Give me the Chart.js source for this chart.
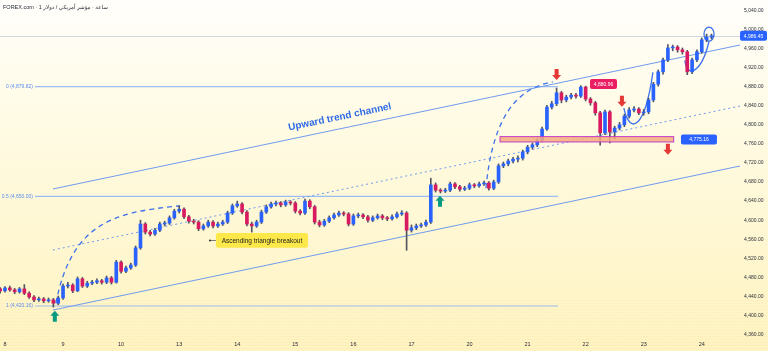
<!DOCTYPE html>
<html>
<head>
<meta charset="utf-8">
<script src="https://cdn.jsdelivr.net/npm/chart.js@4.4.1/dist/chart.umd.min.js"></script>
<style>
  html, body { margin: 0; padding: 0; background: #fffbe6; }
  #wrap { width: 768px; height: 351px; }
</style>
</head>
<body>
<div id="wrap"><canvas id="chart" width="768" height="351"></canvas></div>
<script>
// Candles (one every ~2h)
const opens = [
  4456, 4452, 4458, 4454, 4450, 4456, 4447, 4439, 4433, 4435, 4431, 4433, 4426,
  4437, 4462, 4464, 4452, 4477, 4462, 4468, 4470, 4473, 4470, 4479, 4470,
  4512, 4493, 4500, 4506, 4542, 4592, 4575, 4571, 4579, 4592, 4594, 4605,
  4619, 4623, 4607, 4598, 4596, 4582, 4588, 4596, 4588, 4592, 4596, 4615,
  4630, 4634, 4617, 4592, 4588, 4596, 4617, 4628, 4634, 4636, 4632, 4638,
  4636, 4619, 4615, 4640, 4628, 4596, 4590, 4598, 4605, 4611, 4615, 4613,
  4592, 4609, 4611, 4607, 4600, 4605, 4609, 4605, 4603, 4607, 4613, 4615,
  4579, 4584, 4588, 4590, 4596, 4674, 4663, 4661, 4663, 4676, 4670, 4665,
  4667, 4674, 4672, 4676, 4678, 4667, 4680, 4714, 4718, 4724, 4728, 4730,
  4743, 4753, 4758, 4768, 4791, 4837, 4844, 4867, 4852, 4858, 4862, 4860,
  4879, 4854, 4846, 4825, 4783, 4827, 4785, 4793, 4800, 4818, 4831, 4833,
  4825, 4827, 4852, 4885, 4911, 4936, 4961, 4963, 4957, 4953, 4911, 4936,
  4953, 4978, 4984
];
const highs = [
  4459, 4461, 4462, 4457, 4459, 4465, 4450, 4442, 4439, 4438, 4437, 4436, 4441,
  4466, 4470, 4467, 4481, 4480, 4472, 4474, 4477, 4476, 4483, 4482, 4516,
  4515, 4504, 4510, 4546, 4600, 4595, 4579, 4583, 4596, 4598, 4609, 4623,
  4630, 4626, 4610, 4602, 4599, 4592, 4600, 4599, 4596, 4600, 4619, 4634,
  4640, 4637, 4620, 4596, 4600, 4621, 4632, 4638, 4640, 4639, 4642, 4641,
  4639, 4622, 4644, 4643, 4631, 4600, 4602, 4609, 4615, 4619, 4618, 4616,
  4613, 4615, 4614, 4610, 4609, 4613, 4612, 4608, 4611, 4617, 4620, 4618,
  4590, 4592, 4594, 4600, 4688, 4678, 4666, 4667, 4680, 4679, 4673, 4671,
  4678, 4677, 4680, 4682, 4681, 4684, 4718, 4722, 4728, 4732, 4735, 4747,
  4757, 4762, 4772, 4795, 4841, 4849, 4877, 4870, 4862, 4866, 4866, 4882,
  4881, 4857, 4849, 4828, 4831, 4830, 4797, 4805, 4822, 4836, 4838, 4836,
  4832, 4856, 4889, 4915, 4940, 4968, 4967, 4966, 4961, 4956, 4940, 4957,
  4982, 4990, 4990
];
const lows = [
  4447, 4449, 4451, 4446, 4447, 4444, 4436, 4429, 4430, 4427, 4428, 4418, 4423,
  4434, 4458, 4448, 4450, 4459, 4459, 4465, 4467, 4466, 4467, 4466, 4468,
  4489, 4490, 4497, 4503, 4539, 4571, 4567, 4568, 4576, 4588, 4591, 4602,
  4615, 4603, 4594, 4592, 4578, 4579, 4585, 4584, 4585, 4589, 4593, 4612,
  4627, 4613, 4588, 4575, 4585, 4593, 4614, 4625, 4630, 4628, 4629, 4632,
  4615, 4611, 4612, 4624, 4592, 4586, 4587, 4595, 4602, 4608, 4609, 4588,
  4589, 4605, 4603, 4596, 4597, 4602, 4601, 4599, 4600, 4604, 4610, 4537,
  4575, 4580, 4585, 4587, 4593, 4659, 4657, 4658, 4660, 4666, 4661, 4662,
  4664, 4668, 4669, 4673, 4663, 4664, 4677, 4710, 4714, 4720, 4722, 4726,
  4739, 4749, 4754, 4764, 4788, 4833, 4840, 4846, 4848, 4854, 4856, 4857,
  4850, 4841, 4820, 4757, 4779, 4762, 4770, 4789, 4796, 4814, 4827, 4821,
  4820, 4823, 4848, 4881, 4906, 4932, 4955, 4952, 4948, 4905, 4907, 4932,
  4950, 4974, 4980
];
const closes = [
  4452, 4458, 4454, 4450, 4456, 4447, 4439, 4433, 4435, 4431, 4433, 4426, 4437,
  4462, 4464, 4452, 4477, 4462, 4468, 4470, 4473, 4470, 4479, 4470, 4512,
  4493, 4500, 4506, 4542, 4592, 4575, 4571, 4579, 4592, 4594, 4605, 4619,
  4623, 4607, 4598, 4596, 4582, 4588, 4596, 4588, 4592, 4596, 4615, 4630,
  4634, 4617, 4592, 4588, 4596, 4617, 4628, 4634, 4636, 4632, 4638, 4636,
  4619, 4615, 4640, 4628, 4596, 4590, 4598, 4605, 4611, 4615, 4613, 4592,
  4609, 4611, 4607, 4600, 4605, 4609, 4605, 4603, 4607, 4613, 4615, 4579,
  4584, 4588, 4590, 4596, 4674, 4663, 4661, 4663, 4676, 4670, 4665, 4667,
  4674, 4672, 4676, 4678, 4667, 4680, 4714, 4718, 4724, 4728, 4730, 4743,
  4753, 4758, 4768, 4791, 4837, 4844, 4867, 4852, 4858, 4862, 4860, 4879,
  4854, 4846, 4825, 4783, 4827, 4785, 4793, 4800, 4818, 4831, 4833, 4825,
  4827, 4852, 4885, 4911, 4936, 4961, 4963, 4957, 4953, 4911, 4936, 4953,
  4978, 4984, 4986.45
];

// Axis labels
const dayTicks = [1, 13, 25, 37, 49, 61, 73, 85, 97, 109, 121, 133, 145];
const dayLabels = ['8', '9', '10', '13', '14', '15', '16', '17', '20', '21', '22', '23', '24'];
const priceTicks = [4360, 4400, 4440, 4480, 4520, 4560, 4600, 4640, 4680, 4720, 4760,
  4800, 4840, 4880, 4920, 4960, 5000, 5040];

// Levels drawn on the chart
const fibLevels = [4879.82, 4650.00, 4420.16];
const fibNames = ['0', '0.5', '1'];
const lastPrice = 4986.45;
const zoneTop = 4775.16;
const zoneBottom = 4764;
const peakLabel = '4,880.96';

const UP = '#2962ff';
const DOWN = '#d81b60';
const WICK = '#50555f';
const LINE = '#5b8def';
const FONT = '"Liberation Sans", "DejaVu Sans", Arial, sans-serif';

const fmt = v => v.toLocaleString('en-US', { minimumFractionDigits: 2, maximumFractionDigits: 2 });

const bodyColors = closes.map((c, i) => c >= opens[i] ? UP : DOWN);

function arrow(ctx, x, tipY, dir, color) {
    // dir 1 = pointing down, -1 = pointing up
    const h = 11, head = 5, hw = 4.5, sw = 2;
    const neck = tipY - dir * head;
    const base = tipY - dir * h;
    ctx.fillStyle = color;
    ctx.beginPath();
    ctx.moveTo(x, tipY);
    ctx.lineTo(x - hw, neck);
    ctx.lineTo(x - sw, neck);
    ctx.lineTo(x - sw, base);
    ctx.lineTo(x + sw, base);
    ctx.lineTo(x + sw, neck);
    ctx.lineTo(x + hw, neck);
    ctx.closePath();
    ctx.fill();
}

function tag(ctx, x, y, w, h, bg, text, color, size) {
    ctx.fillStyle = bg;
    ctx.beginPath();
    ctx.roundRect(x, y, w, h, 2);
    ctx.fill();
    ctx.fillStyle = color;
    ctx.font = `${size}px ${FONT}`;
    ctx.textAlign = 'center';
    ctx.textBaseline = 'middle';
    ctx.fillText(text, x + w / 2, y + h / 2 + 0.5);
}

// Background gradient and header
const backdrop = {
    id: 'backdrop',
    beforeDraw(chart) {
        const { ctx, width, height } = chart;
        const g = ctx.createLinearGradient(0, 0, 0, height);
        g.addColorStop(0, '#fffefb');
        g.addColorStop(0.35, '#fffbe4');
        g.addColorStop(1, '#fff3c0');
        ctx.save();
        ctx.fillStyle = g;
        ctx.fillRect(0, 0, width, height);
        // faint dot texture near the bottom
        ctx.fillStyle = 'rgba(190,160,70,0.12)';
        for (let y = 300; y < height; y += 3) {
            for (let x = (y % 6 ? 0 : 1.5); x < width; x += 3) ctx.fillRect(x, y, 1, 1);
        }
        ctx.fillStyle = '#2a2e39';
        ctx.font = `5.5px ${FONT}`;
        ctx.textBaseline = 'middle';
        ctx.fillText('FOREX.com · 1 ساعة · مؤشر أمريكي / دولار', 3, 7);
        ctx.restore();
    }
};

// Lines behind the candles
const drawings = {
    id: 'drawings',
    beforeDatasetsDraw(chart) {
        const { ctx, chartArea: area } = chart;
        const X = v => chart.scales.x.getPixelForValue(v);
        const Y = v => chart.scales.y.getPixelForValue(v);
        ctx.save();
        ctx.beginPath();
        ctx.rect(area.left, area.top, area.right - area.left, area.bottom - area.top);
        ctx.clip();

        // last price line
        ctx.strokeStyle = 'rgba(120,140,180,0.35)';
        ctx.lineWidth = 1;
        ctx.beginPath();
        ctx.moveTo(area.left, Math.round(Y(lastPrice)) + 0.5);
        ctx.lineTo(area.right, Math.round(Y(lastPrice)) + 0.5);
        ctx.stroke();

        // fib levels
        ctx.strokeStyle = '#9dbcf2';
        ctx.lineWidth = 1.2;
        fibLevels.forEach((lvl, k) => {
            const y = Y(lvl);
            ctx.beginPath();
            ctx.moveTo(X(7.2), y);
            ctx.lineTo(X(115.3), y);
            ctx.stroke();
            ctx.fillStyle = LINE;
            ctx.font = `5px ${FONT}`;
            ctx.textAlign = 'right';
            ctx.textBaseline = 'middle';
            ctx.fillText(`${fibNames[k]} (${fmt(lvl)})`, X(7.2) - 2, y);
        });

        // channel
        ctx.strokeStyle = '#6f9bef';
        ctx.lineWidth = 1;
        ctx.beginPath();
        ctx.moveTo(X(10.9), Y(4665.4));
        ctx.lineTo(X(152.9), Y(4967.2));
        ctx.moveTo(X(10.9), Y(4411.7));
        ctx.lineTo(X(152.9), Y(4713.6));
        ctx.stroke();
        ctx.setLineDash([2, 3]);
        ctx.beginPath();
        ctx.moveTo(X(10.9), Y(4537.5));
        ctx.lineTo(X(152.9), Y(4839.3));
        ctx.stroke();

        // dashed swing arcs
        ctx.strokeStyle = '#3d72ea';
        ctx.lineWidth = 1.3;
        ctx.setLineDash([5, 4]);
        ctx.beginPath();
        ctx.moveTo(X(11.5), Y(4426));
        ctx.bezierCurveTo(X(14.8), Y(4590), X(22.7), Y(4617), X(37.2), Y(4630));
        ctx.moveTo(X(100.4), Y(4667));
        ctx.bezierCurveTo(X(101.8), Y(4820), X(107), Y(4877), X(114.2), Y(4890));
        ctx.stroke();

        // solid swing curves
        ctx.setLineDash([]);
        ctx.beginPath();
        ctx.moveTo(X(128.9), Y(4835));
        ctx.bezierCurveTo(X(130.1), Y(4778), X(133.2), Y(4789), X(134.9), Y(4910));
        ctx.moveTo(X(141.5), Y(4935));
        ctx.bezierCurveTo(X(142), Y(4895), X(145), Y(4910), X(146.5), Y(4975));
        ctx.stroke();
        ctx.beginPath();
        ctx.ellipse(X(146.5), Y(4990), 5, 7, 0, 0, Math.PI * 2);
        ctx.stroke();
        ctx.restore();
    },
    afterDatasetsDraw(chart) {
        const { ctx, chartArea: area } = chart;
        const X = v => chart.scales.x.getPixelForValue(v);
        const Y = v => chart.scales.y.getPixelForValue(v);
        ctx.save();

        // support zone
        const zx1 = X(103.3), zx2 = X(139.2), zy1 = Y(zoneTop), zy2 = Y(zoneBottom);
        ctx.fillStyle = 'rgba(245,172,125,0.85)';
        ctx.fillRect(zx1, zy1, zx2 - zx1, zy2 - zy1);
        ctx.strokeStyle = '#c23cc8';
        ctx.lineWidth = 1;
        ctx.strokeRect(zx1, zy1, zx2 - zx1, zy2 - zy1);
        tag(ctx, X(140.7), zy1 - 2, 36, 10, '#2962ff', fmt(zoneTop), '#fff', 5);

        // peak tag
        tag(ctx, X(121.9), Y(4896), 27, 10, '#e91e63', peakLabel, '#fff', 5);

        // arrows
        arrow(ctx, X(115), Y(4894), 1, '#e53935');
        arrow(ctx, X(128.5), Y(4838), 1, '#e53935');
        arrow(ctx, X(138), Y(4737), 1, '#e53935');
        arrow(ctx, X(11.3), Y(4410), -1, '#089981');
        arrow(ctx, X(90.9), Y(4651), -1, '#089981');

        // channel title
        const a = Math.atan2(Y(4967.2) - Y(4665.4), X(152.9) - X(10.9));
        ctx.translate(X(70.2), Y(4816));
        ctx.rotate(a);
        ctx.fillStyle = '#2f6be6';
        ctx.font = `bold 10px ${FONT}`;
        ctx.textAlign = 'center';
        ctx.textBaseline = 'middle';
        ctx.fillText('Upward trend channel', 0, 0);
        ctx.setTransform(1, 0, 0, 1, 0, 0);

        // triangle breakout note
        const bx = X(44.6), by = Y(4573), bw = X(63.6) - bx, bh = Y(4542) - by;
        ctx.strokeStyle = '#555';
        ctx.lineWidth = 0.8;
        ctx.beginPath();
        ctx.moveTo(bx - 6, by + bh / 2);
        ctx.lineTo(bx, by + bh / 2);
        ctx.stroke();
        ctx.fillStyle = '#333';
        ctx.beginPath();
        ctx.arc(bx - 6, by + bh / 2, 1, 0, Math.PI * 2);
        ctx.fill();
        tag(ctx, bx, by, bw, bh, '#fde84a', 'Ascending triangle breakout', '#1c1c1c', 6.5);

        // last price tag on the axis
        tag(ctx, area.right, Y(lastPrice) - 5, 27, 10, '#2962ff', fmt(lastPrice), '#fff', 5);
        ctx.restore();
    }
};

new Chart(document.getElementById('chart'), {
    type: 'bar',
    data: {
        datasets: [
            {
                label: 'body',
                data: closes.map((c, i) => ({ x: i, y: [opens[i], c] })),
                backgroundColor: bodyColors,
                barThickness: 3,
                minBarLength: 1,
                grouped: false,
                order: 1
            },
            {
                label: 'wick',
                data: closes.map((c, i) => ({ x: i, y: [lows[i], highs[i]] })),
                backgroundColor: WICK,
                barThickness: 1,
                grouped: false,
                order: 2
            }
        ]
    },
    options: {
        responsive: false,
        animation: false,
        devicePixelRatio: 1,
        layout: { padding: 0 },
        plugins: { legend: { display: false }, tooltip: { enabled: false } },
        scales: {
            x: {
                type: 'linear',
                min: -0.03,
                max: 152.9,
                offset: false,
                grid: { display: false, drawTicks: false },
                border: { display: false },
                afterBuildTicks: axis => { axis.ticks = dayTicks.map(v => ({ value: v })); },
                afterFit: axis => {
                    axis.height = 13;
                    axis.paddingLeft = 0;
                    axis.paddingRight = 0;
                },
                ticks: {
                    autoSkip: false,
                    maxRotation: 0,
                    padding: 3,
                    color: '#2a2e39',
                    font: { size: 5.5, family: FONT },
                    callback: v => dayLabels[dayTicks.indexOf(v)]
                }
            },
            y: {
                position: 'right',
                min: 4353.1,
                max: 5061.5,
                grid: { display: false, drawTicks: false },
                border: { display: false },
                afterBuildTicks: axis => { axis.ticks = priceTicks.map(v => ({ value: v })); },
                afterFit: axis => {
                    axis.width = 28;
                    axis.paddingTop = 0;
                    axis.paddingBottom = 0;
                },
                ticks: {
                    padding: 4,
                    color: '#2a2e39',
                    font: { size: 5, family: FONT },
                    callback: v => fmt(v)
                }
            }
        }
    },
    plugins: [backdrop, drawings]
});
</script>
</body>
</html>
